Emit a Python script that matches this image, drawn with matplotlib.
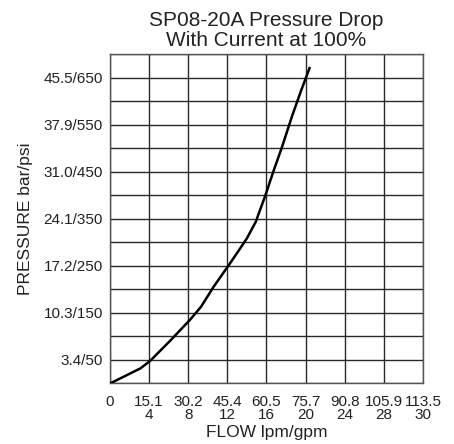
import matplotlib
matplotlib.use('Agg')
import matplotlib.pyplot as plt

plt.rcParams['font.family'] = ['Liberation Sans', 'DejaVu Sans']

# flow in gpm, pressure in psi
flow_gpm = [0, 3.1, 4.1, 6.2, 8.2, 9.3, 10.6, 12.15, 13.2, 14.0, 14.9, 15.9, 16.7, 17.6, 18.6, 19.5, 20.4]
pressure_psi = [0, 32, 48, 92, 136, 163, 206, 252, 284, 309, 344, 401, 451, 504, 568, 621, 671]

# tick positions in gpm (grid is evenly spaced; the last column is labelled 30)
x_ticks = [0, 4, 8, 12, 16, 20, 24, 28, 32]
x_labels = ['0', '15.1\n4', '30.2\n8', '45.4\n12', '60.5\n16', '75.7\n20',
            '90.8\n24', '105.9\n28', '113.5\n30']
y_ticks = [50, 150, 250, 350, 450, 550, 650]
y_labels = ['3.4/50', '10.3/150', '17.2/250', '24.1/350', '31.0/450', '37.9/550', '45.5/650']

fig = plt.figure(figsize=(4.54, 4.44), dpi=100)
ax = fig.add_axes([0.2423, 0.1363, 0.6894, 0.741])

ax.set_xlim(0, 32)
ax.set_ylim(0, 700)

# grid lines
for gx in range(0, 33, 4):
    ax.axvline(gx, color='#2a2a2a', lw=1.0, zorder=1)
for gy in range(0, 701, 50):
    ax.axhline(gy, color='#2a2a2a', lw=1.0, zorder=1)

ax.plot(flow_gpm, pressure_psi, color='black', lw=1.8, zorder=3)

ax.set_xticks(x_ticks)
ax.set_xticklabels(x_labels, fontsize=11, linespacing=0.95)
ax.set_yticks(y_ticks)
ax.set_yticklabels(y_labels, fontsize=11)
ax.tick_params(axis='both', length=0, colors='#222222')
ax.tick_params(axis='x', pad=8)
ax.tick_params(axis='y', pad=5)

for s in ax.spines.values():
    s.set_color('#555555')
    s.set_linewidth(1.0)

ax.set_xlabel('FLOW lpm/gpm', fontsize=12.5, labelpad=2, color='#222222')
ax.set_ylabel('PRESSURE bar/psi', fontsize=12.5, labelpad=8, color='#222222')
ax.set_title('SP08-20A Pressure Drop\nWith Current at 100%', fontsize=15,
             linespacing=1.05, pad=6, color='#222222')

fig.savefig('out.png', dpi=100)
